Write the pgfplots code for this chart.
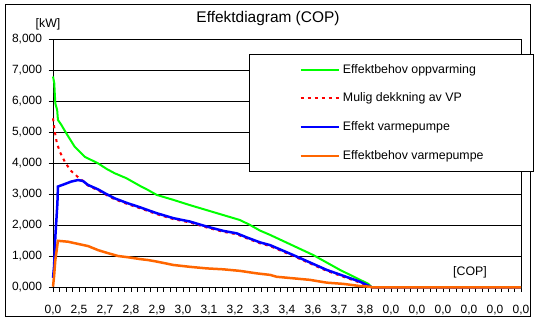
\documentclass[border=0pt]{standalone}
\usepackage{fontspec}
\setmainfont{Liberation Sans}
\usepackage{pgfplots}
\pgfplotsset{compat=1.18}
\definecolor{cgreen}{RGB}{0,255,0}
\definecolor{cred}{RGB}{255,0,0}
\definecolor{cblue}{RGB}{0,0,255}
\definecolor{corange}{RGB}{255,102,0}
\begin{document}
\begin{tikzpicture}
\useasboundingbox (0bp,0bp) rectangle (535bp,322bp);
\draw[black, line width=1bp] (5bp,5bp) rectangle (530bp,317bp);
\begin{axis}[
  at={(53bp,34.7bp)}, anchor=south west,
  scale only axis, width=468bp, height=248bp,
  xmin=0, xmax=18, ymin=0, ymax=8,
  clip=false,
  axis line style={black, line width=1bp},
  ymajorgrids, major grid style={black, line width=1bp},
  xtick={0,...,18},
  xticklabels={{0,0},{2,5},{2,7},{2,8},{2,9},{3,0},{3,1},{3,2},{3,3},{3,4},{3,6},{3,7},{3,8},{0,0},{0,0},{0,0},{0,0},{0,0},{0,0}},
  minor x tick num=3,
  ytick={0,...,8},
  xtick pos=left, ytick pos=left,
  tick align=outside,
  major tick length=4.5bp, minor tick length=4.5bp,
  tick style={black, line width=1bp},
  /pgf/number format/.cd, fixed, fixed zerofill, precision=3, use comma, assume math mode=true,
  /pgfplots/.cd,
  ticklabel style={font=\fontsize{12}{13}\selectfont},
  xticklabel style={yshift=-9.5bp},
  yticklabel style={xshift=-3bp},
  title={Effektdiagram (COP)},
  title style={at={(0.4594,1.058)}, anchor=center, font=\fontsize{15.5}{18}\selectfont},
  ylabel={[kW]},
  ylabel style={rotate=-90, at={(-0.0107,1.062)}, anchor=center, font=\fontsize{12.4}{14}\selectfont},
  xlabel={[COP]},
  xlabel style={at={(0.891,0.062)}, anchor=center, font=\fontsize{12.4}{14}\selectfont},
  legend cell align=left,
  legend image code/.code={\draw[#1] (0bp,0bp) -- (38bp,0bp);},
  legend style={at={(0.4188,0.9407)}, anchor=north west, draw=black, fill=white,
    /tikz/line width=1bp,
    inner xsep=50bp, inner ysep=9.5bp, row sep=17.2bp,
    font=\fontsize{12.4}{14}\selectfont,
    nodes={inner sep=0pt, text height=9bp, text depth=2.5bp},
    /tikz/every odd column/.append style={column sep=3bp}},
]
\addplot[cgreen, line width=2bp] coordinates {
(0,6.80) (0.05,6.58) (0.065,6.31) (0.09,5.93) (0.16,5.72) (0.19,5.40) (0.32,5.24) (0.51,4.97)
(0.83,4.54) (1.22,4.21) (1.73,4.00) (2.06,3.82) (2.37,3.68) (2.82,3.52) (3.35,3.27) (3.65,3.14)
(3.99,2.98) (4.63,2.82) (5.27,2.65) (5.91,2.49) (6.55,2.33) (7.19,2.17) (7.58,2.01) (7.96,1.83)
(8.35,1.69) (10.01,1.04) (11.04,0.56) (12.13,0.11) (12.26,0) (18,0)};
\addlegendentry{Effektbehov oppvarming}
\addplot[cred, line width=2bp, dash pattern=on 3bp off 4bp] coordinates {
(0,5.45) (0.07,5.02) (0.15,4.65) (0.26,4.38) (0.47,4.02) (0.70,3.75) (0.98,3.54) (1.15,3.43)
(1.35,3.28) (1.73,3.13) (2.05,2.98) (2.37,2.84) (2.88,2.68) (3.35,2.55) (3.65,2.46) (3.99,2.36)
(4.63,2.20) (5.27,2.09) (5.91,1.93) (6.55,1.79) (7.07,1.71) (7.45,1.58) (7.96,1.42) (8.35,1.33)
(9.24,1.01) (10.53,0.53) (11.81,0.15) (12.26,0) (18,0)};
\addlegendentry{Mulig dekkning av VP}
\addplot[cblue, line width=2.5bp] coordinates {
(0,0.30) (0.04,0.66) (0.09,1.63) (0.13,2.17) (0.17,2.72) (0.19,3.25) (0.45,3.33) (0.70,3.41)
(0.96,3.46) (1.15,3.43) (1.35,3.30) (1.73,3.16) (2.05,3.01) (2.37,2.87) (2.88,2.71) (3.35,2.58)
(3.65,2.49) (3.99,2.39) (4.63,2.23) (5.27,2.12) (5.91,1.96) (6.55,1.82) (7.07,1.74) (7.45,1.61)
(7.96,1.45) (8.35,1.36) (9.24,1.04) (10.53,0.56) (11.81,0.18) (12.26,0) (18,0)};
\addlegendentry{Effekt varmepumpe}
\addplot[corange, line width=2.5bp] coordinates {
(0,0.02) (0.04,0.34) (0.09,0.88) (0.16,1.31) (0.19,1.50) (0.58,1.47) (0.96,1.40) (1.35,1.33)
(1.73,1.20) (2.12,1.10) (2.50,1.01) (2.88,0.97) (3.35,0.91) (3.65,0.88) (3.99,0.83) (4.63,0.72)
(5.27,0.66) (5.91,0.61) (6.55,0.58) (7.19,0.53) (7.83,0.45) (8.35,0.40) (8.60,0.34) (9.24,0.29)
(9.88,0.24) (10.53,0.15) (11.17,0.11) (11.81,0.04) (12.19,0.02) (12.26,0) (18,0)};
\addlegendentry{Effektbehov varmepumpe}
\end{axis}
\end{tikzpicture}
\end{document}
